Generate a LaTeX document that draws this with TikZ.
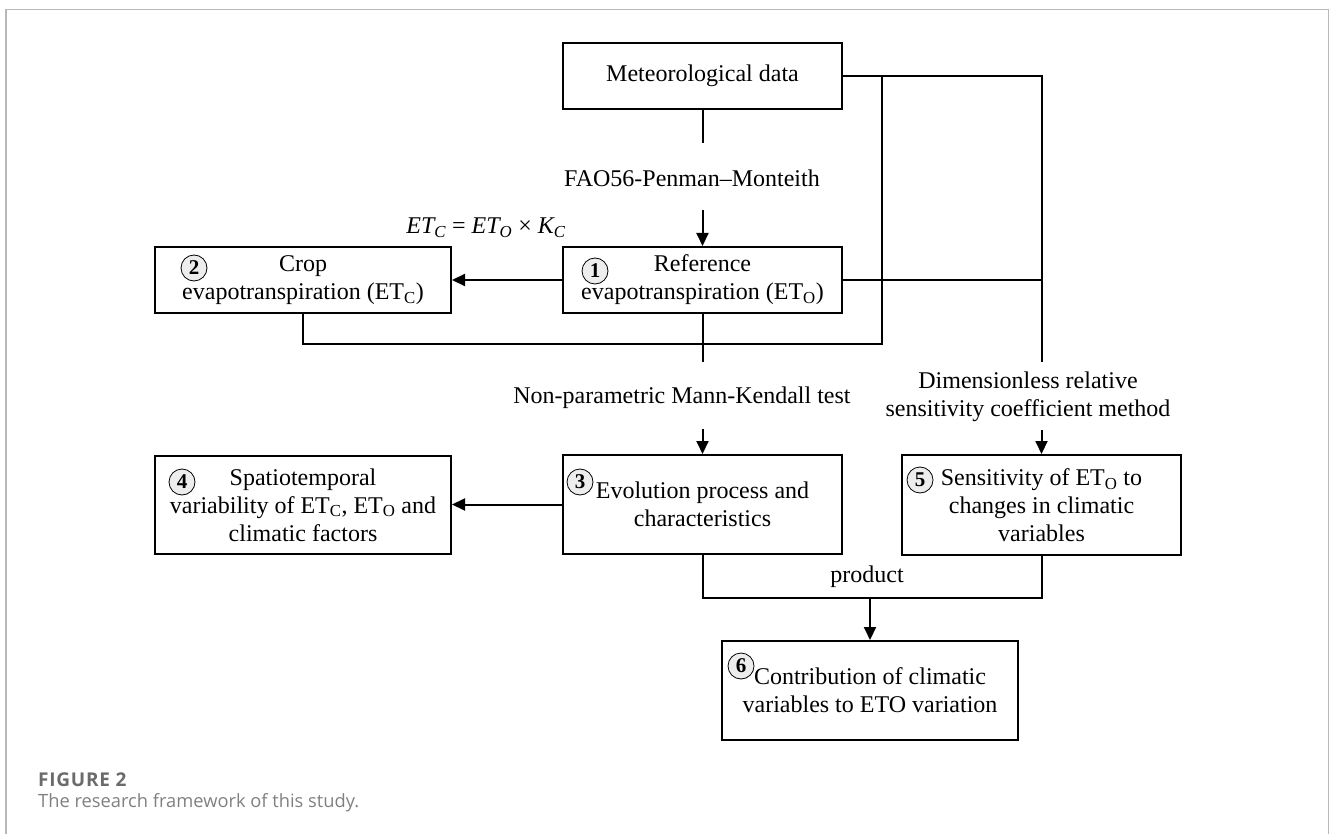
\documentclass[tikz,border=0pt]{standalone}
\usepackage{fontspec}
\setmainfont{Liberation Serif}
\newfontfamily\capfont{Open Sans}
\usetikzlibrary{arrows.meta}
\tikzset{
  box/.style={draw, line width=2pt, align=center, inner sep=0pt,
    font=\fontsize{24}{28}\selectfont},
  lbl/.style={align=center, inner sep=0pt, font=\fontsize{24}{28}\selectfont},
  numcirc/.style={circle, draw, line width=0.8pt, fill=black!7,
    minimum size=26pt, inner sep=0pt, font=\fontsize{21}{21}\selectfont\bfseries},
  link/.style={line width=2pt},
  arr/.style={line width=2pt, -{Triangle[length=13pt,width=12pt]}},
}

\begin{document}
\begin{tikzpicture}[x=1pt,y=-1pt]
  \useasboundingbox (0,0) rectangle (1330,834);
  % frame round the figure
  \draw[black!28, line width=1.5pt] (6,834) -- (6,9.5) -- (1328.5,9.5) -- (1328.5,834);

  % boxes
  \node[box, minimum width=279pt, minimum height=66pt] (meteo) at (702.5,76) {Meteorological data};
  \node[box, minimum width=279pt, minimum height=66pt] (ref) at (702.5,280)
    {Reference\\evapotranspiration (ET\textsubscript{O})};
  \node[box, minimum width=296pt, minimum height=66pt] (crop) at (303,280)
    {Crop\\evapotranspiration (ET\textsubscript{C})};
  \node[box, minimum width=279pt, minimum height=99pt] (evol) at (702.5,504.5)
    {Evolution process and\\characteristics};
  \node[box, minimum width=296pt, minimum height=98pt] (spatio) at (303,505)
    {Spatiotemporal\\variability of ET\textsubscript{C}, ET\textsubscript{O} and\\climatic factors};
  \node[box, minimum width=279pt, minimum height=100pt] (sens) at (1041.5,505)
    {Sensitivity of ET\textsubscript{O} to\\changes in climatic\\variables};
  \node[box, minimum width=296pt, minimum height=99pt] (contrib) at (870,690.5)
    {Contribution of climatic\\variables to ETO variation};

  % circled numbers
  \foreach \n/\x/\y in {1/595/271, 2/194/268, 3/580/482, 4/182/482, 5/920/480, 6/741/666}
  {
    \node[numcirc] (num\n) at (\x,\y) {\n};
  }

  % method labels
  \node[lbl] (fao) at (692,178) {FAO56-Penman–Monteith};
  \node[lbl] (formula) at (486,228)
    {\itshape ET\textsubscript{C}\upshape{} = \itshape ET\textsubscript{O}\upshape{} × \itshape K\textsubscript{C}};
  \node[lbl] (mk) at (682,398) {Non-parametric Mann-Kendall test};
  \node[lbl] (drs) at (1028,396.5) {Dimensionless relative\\sensitivity coefficient method};
  \node[lbl] (prodlbl) at (867,577) {product};

  \coordinate (fao top) at (702.5,143);
  \coordinate (fao bot) at (702.5,210);
  \coordinate (tap) at (882,76);
  \coordinate (join) at (702.5,343.5);
  \coordinate (mk top) at (702.5,362);
  \coordinate (mk bot) at (702.5,429);
  \coordinate (ds top) at (1041.5,362);
  \coordinate (ds bot) at (1041.5,430);
  \coordinate (prod) at (870,598);

  % connectors
  \draw[link] (meteo.south) -- (fao top);
  \draw[arr] (fao bot) -- (ref.north);
  \draw[arr] (ref.west) -- (crop.east);
  \draw[link] (meteo.east) -| (ds top);
  \draw[link] (tap) |- (join);
  \draw[link] (ref.east) -- (ref.east -| ds top);
  \draw[link] (crop.south) |- (join);
  \draw[link] (ref.south) -- (mk top);
  \draw[arr] (mk bot) -- (evol.north);
  \draw[arr] (ds bot) -- (sens.north);
  \draw[arr] (evol.west) -- (evol.west -| spatio.east);
  \draw[link] (evol.south) |- (prod) -| (sens.south);
  \draw[arr] (prod) -- (contrib.north);

  % caption
  \node[anchor=west, inner sep=0pt, text=black!58, font=\capfont\fontsize{19}{22}\selectfont\bfseries\addfontfeatures{LetterSpace=4}] (figno) at (38,780) {FIGURE 2};
  \node[anchor=west, inner sep=0pt, text=black!50, font=\capfont\fontsize{18.3}{22}\selectfont] (figcap) at (38,803) {The research framework of this study.};
\end{tikzpicture}
\end{document}
